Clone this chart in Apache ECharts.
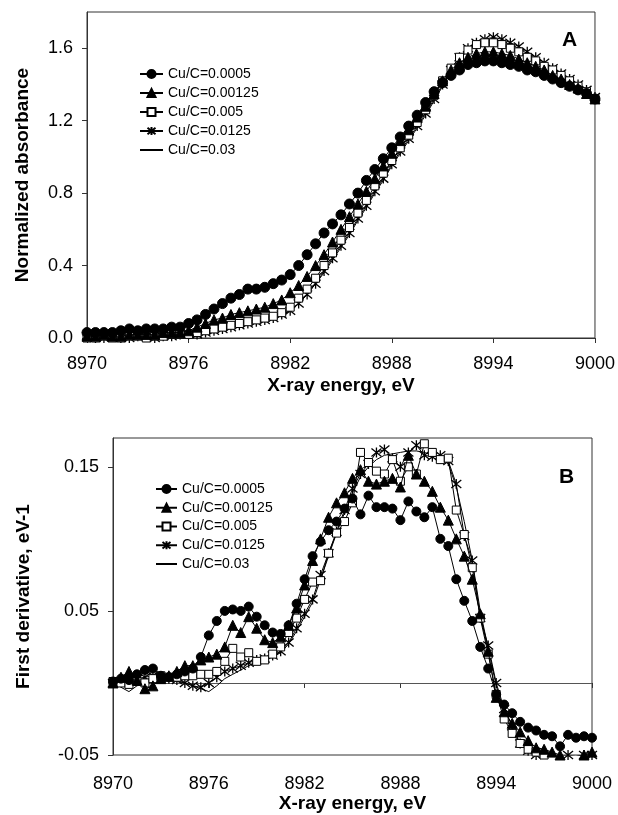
<!DOCTYPE html>
<html><head><meta charset="utf-8">
<script src="https://cdn.jsdelivr.net/npm/echarts@6/dist/echarts.min.js"></script>
<style>html,body{margin:0;padding:0;background:#fff}#c{width:618px;height:815px}</style>
</head><body><div id="c"></div>
<script>
// X-ray energy (eV), shared by all series
const energy = [8970,8970.5,8971,8971.5,8972,8972.5,8973,8973.5,8974,8974.5,
  8975,8975.5,8976,8976.5,8977,8977.5,8978,8978.5,8979,8979.5,
  8980,8980.5,8981,8981.5,8982,8982.5,8983,8983.5,8984,8984.5,
  8985,8985.5,8986,8986.5,8987,8987.5,8988,8988.5,8989,8989.5,
  8990,8990.5,8991,8991.5,8992,8992.5,8993,8993.5,8994,8994.5,
  8995,8995.5,8996,8996.5,8997,8997.5,8998,8998.5,8999,8999.5,9000];
const seriesNames = ['Cu/C=0.0005','Cu/C=0.00125','Cu/C=0.005','Cu/C=0.0125','Cu/C=0.03'];

// Panel A: normalized absorbance
const topS1 = [0.03,0.03,0.03,0.03,0.04,0.05,0.04,0.05,0.05,0.05, 0.06,0.06,0.08,0.10,0.13,0.16,0.19,0.22,0.24,0.27, 0.27,0.28,0.30,0.32,0.35,0.40,0.46,0.52,0.58,0.63, 0.68,0.74,0.80,0.87,0.93,0.99,1.05,1.11,1.17,1.23, 1.30,1.36,1.41,1.45,1.48,1.51,1.52,1.53,1.53,1.52, 1.51,1.50,1.48,1.47,1.45,1.43,1.41,1.39,1.37,1.35, 1.32];
const topS2 = [0.01,0.01,0.02,0.01,0.01,0.02,0.02,0.02,0.02,0.03, 0.03,0.03,0.04,0.06,0.08,0.10,0.11,0.13,0.14,0.15, 0.16,0.17,0.19,0.21,0.25,0.29,0.34,0.40,0.46,0.53, 0.60,0.67,0.74,0.81,0.88,0.95,1.02,1.09,1.15,1.22, 1.28,1.35,1.42,1.48,1.52,1.55,1.57,1.58,1.58,1.57, 1.56,1.54,1.52,1.50,1.48,1.45,1.43,1.40,1.38,1.35, 1.32];
const topS3 = [0.00,0.00,0.01,0.00,0.00,0.01,0.01,0.00,0.01,0.01, 0.02,0.02,0.02,0.03,0.04,0.05,0.06,0.07,0.08,0.09, 0.10,0.11,0.12,0.14,0.17,0.22,0.27,0.33,0.40,0.47, 0.54,0.61,0.69,0.76,0.84,0.91,0.98,1.05,1.12,1.19, 1.26,1.34,1.42,1.49,1.55,1.59,1.62,1.63,1.63,1.62, 1.60,1.58,1.55,1.53,1.50,1.48,1.45,1.42,1.39,1.36, 1.32];
const topS4 = [0.01,0.00,0.00,0.01,0.00,0.00,0.01,0.01,0.00,0.01, 0.01,0.02,0.02,0.02,0.03,0.04,0.05,0.06,0.07,0.08, 0.09,0.10,0.11,0.13,0.15,0.19,0.24,0.30,0.37,0.44, 0.51,0.58,0.66,0.73,0.81,0.88,0.96,1.03,1.10,1.17, 1.24,1.32,1.40,1.48,1.55,1.60,1.63,1.65,1.66,1.65, 1.63,1.61,1.58,1.55,1.52,1.49,1.46,1.43,1.40,1.37, 1.33];
const topS5 = [0.01,0.01,0.00,0.01,0.01,0.00,0.01,0.01,0.01,0.01, 0.01,0.02,0.02,0.03,0.03,0.04,0.05,0.06,0.07,0.08, 0.09,0.10,0.11,0.13,0.15,0.19,0.24,0.30,0.36,0.43, 0.50,0.57,0.65,0.72,0.80,0.87,0.95,1.02,1.09,1.16, 1.23,1.31,1.39,1.47,1.54,1.59,1.62,1.64,1.65,1.64, 1.62,1.60,1.57,1.54,1.51,1.48,1.45,1.42,1.39,1.36, 1.33];

// Panel B: first derivative
const botS1 = [0.001,0.003,0.002,0.006,0.009,0.010,0.005,0.004,0.006,0.008, 0.010,0.018,0.033,0.043,0.050,0.051,0.050,0.053,0.046,0.040, 0.035,0.034,0.040,0.055,0.072,0.088,0.098,0.106,0.112,0.121, 0.128,0.117,0.130,0.122,0.122,0.121,0.113,0.126,0.119,0.115, 0.122,0.100,0.095,0.072,0.057,0.043,0.025,0.010,-0.008,-0.015, -0.021,-0.027,-0.031,-0.033,-0.036,-0.037,-0.044,-0.036,-0.038,-0.037, -0.038];
const botS2 = [0.000,0.004,0.008,0.002,-0.004,-0.002,0.003,0.005,0.008,0.012, 0.012,0.016,0.018,0.020,0.025,0.040,0.035,0.046,0.038,0.030, 0.028,0.032,0.040,0.052,0.068,0.085,0.100,0.115,0.125,0.132, 0.142,0.148,0.140,0.138,0.140,0.142,0.136,0.158,0.145,0.140, 0.133,0.122,0.113,0.100,0.088,0.072,0.048,0.022,-0.010,-0.020, -0.028,-0.034,-0.040,-0.045,-0.046,-0.048,-0.050,-0.052,-0.051,-0.050, -0.048];
const botS3 = [0.001,0.000,-0.001,0.001,0.000,0.003,0.005,0.004,0.004,0.005, 0.005,0.006,0.006,0.008,0.015,0.024,0.018,0.021,0.015,0.016, 0.020,0.025,0.035,0.045,0.058,0.070,0.071,0.090,0.104,0.112, 0.125,0.160,0.153,0.147,0.145,0.155,0.140,0.150,0.145,0.166, 0.160,0.155,0.156,0.120,0.103,0.080,0.045,0.020,-0.008,-0.025, -0.035,-0.042,-0.046,-0.048,-0.050,-0.052,-0.053,-0.052,-0.053,-0.052, -0.052];
const botS4 = [0.000,0.001,0.002,0.003,0.004,0.005,0.004,0.003,0.002,0.000, -0.002,-0.003,0.000,0.004,0.008,0.010,0.012,0.014,0.016,0.017, 0.019,0.022,0.028,0.038,0.048,0.058,0.075,0.090,0.105,0.120, 0.135,0.145,0.152,0.160,0.162,0.156,0.150,0.160,0.165,0.158, 0.157,0.158,0.154,0.138,0.102,0.085,0.045,0.026,0.000,-0.018, -0.030,-0.042,-0.047,-0.050,-0.051,-0.052,-0.051,-0.050,-0.051,-0.050, -0.050];
const botS5 = [0.000,-0.003,-0.006,-0.002,0.000,0.001,0.002,0.002,0.001,0.000, -0.002,-0.004,-0.006,-0.002,0.003,0.006,0.009,0.012,0.014,0.016, 0.018,0.021,0.027,0.036,0.046,0.056,0.072,0.088,0.104,0.118, 0.132,0.143,0.150,0.155,0.158,0.159,0.160,0.161,0.161,0.160, 0.158,0.156,0.152,0.136,0.112,0.085,0.050,0.024,-0.002,-0.020, -0.032,-0.042,-0.047,-0.050,-0.051,-0.052,-0.052,-0.051,-0.051,-0.050, -0.050];

const xTicks = [8970,8976,8982,8988,8994,9000];
const topYTicks = [0,0.4,0.8,1.2,1.6];
const botYTicks = [-0.05,0.05,0.15];

const FONT = "'Liberation Sans', Arial, Helvetica, sans-serif";
const star = 'path://M0,-5L0,5M-4,-4L4,4M-4,4L4,-4';
const symbols = ['circle','triangle','rect',star,'none'];
const fills = ['#000','#000','#fff','#000','#000'];
const topSizes = [10,10,8,10,0];
const botSizes = [9,10,8,10,0];
const topData = [topS1, topS2, topS3, topS4, topS5];
const botData = [botS1, botS2, botS3, botS4, botS5];

function mkSeries(arr, k, gi, sizes) {
  const s = {
    name: seriesNames[k], type:'line', xAxisIndex:gi, yAxisIndex:gi,
    data: energy.map((e,i)=>[e, arr[i]]),
    symbol: symbols[k], symbolSize: sizes[k], showSymbol: symbols[k] !== 'none',
    lineStyle:{color:'#000', width:1},
    itemStyle:{color:fills[k], borderColor:'#000', borderWidth: k===3 ? 1.3 : 1},
    emphasis:{disabled:true}, animation:false, z: 10 - k
  };
  if (gi === 1 && k === 4) {
    s.markLine = {silent:true, symbol:['none','none'], label:{show:false},
      lineStyle:{color:'#555', width:1, type:'solid'}, data:[{yAxis:0}]};
  }
  return s;
}
const series = [];
for (let k = 4; k >= 0; k--) series.push(mkSeries(topData[k], k, 0, topSizes));
for (let k = 4; k >= 0; k--) series.push(mkSeries(botData[k], k, 1, botSizes));

function xAx(gi, gap, margin) {
  return {type:'value', gridIndex:gi, min:8970, max:9000, interval:6,
    name:'X-ray energy, eV', nameLocation:'middle', nameGap:gap,
    nameTextStyle:{fontFamily:FONT, fontWeight:'bold', fontSize:19, color:'#000'},
    axisLine:{show:true, lineStyle:{color:'#333', width:1}},
    axisTick:{show:true, inside:false, length:5, customValues:xTicks, lineStyle:{color:'#333'}},
    axisLabel:{fontFamily:FONT, fontSize:18, color:'#000', margin:margin, customValues:xTicks,
      formatter: v => String(v)},
    splitLine:{show:false}};
}
function yAx(gi, min, max, ticks, dec, name, gap) {
  return {type:'value', gridIndex:gi, min:min, max:max,
    name:name, nameLocation:'middle', nameGap:gap,
    nameTextStyle:{fontFamily:FONT, fontWeight:'bold', fontSize:19, color:'#000'},
    axisLine:{show:true, lineStyle:{color:'#333', width:1}},
    axisTick:{show:true, inside:false, length:5, customValues:ticks, lineStyle:{color:'#333'}},
    axisLabel:{fontFamily:FONT, fontSize:18, color:'#000', margin:14, customValues:ticks,
      formatter: v => Number(v).toFixed(dec)},
    splitLine:{show:false}};
}

const legendData = seriesNames.map((n,i) => i === 4 ? {name:n, itemStyle:{opacity:0}} : {name:n});
function legend(left, top, w, gap) {
  return {orient:'vertical', left:left, top:top, padding:0, itemWidth:w, itemHeight:10, itemGap:gap,
    textStyle:{fontFamily:FONT, fontSize:14, color:'#000'}, data:legendData, selectedMode:false};
}

const option = {
  backgroundColor:'#fff', animation:false,
  grid:[
    {left:87, top:12, width:509, height:326, show:true, borderColor:'#333', borderWidth:1},
    {left:113, top:438, width:479, height:317, show:true, borderColor:'#333', borderWidth:1}
  ],
  xAxis:[xAx(0, 38, 17), xAx(1, 37, 20)],
  yAxis:[yAx(0, 0, 1.8, topYTicks, 1, 'Normalized absorbance', 55),
         yAx(1, -0.05, 0.17, botYTicks, 2, 'First derivative, eV-1', 80)],
  legend:[legend(139, 67, 23, 5), legend(155, 482, 21, 4.75)],
  graphic:[
    {type:'text', left:562, top:30, style:{text:'A', font:"bold 21px 'Liberation Sans', Arial", fill:'#000'}},
    {type:'text', left:559, top:467, style:{text:'B', font:"bold 21px 'Liberation Sans', Arial", fill:'#000'}}
  ],
  series: series
};
const chart = echarts.init(document.getElementById('c'), null, {renderer:'canvas'});
chart.setOption(option);
</script>
</body></html>
